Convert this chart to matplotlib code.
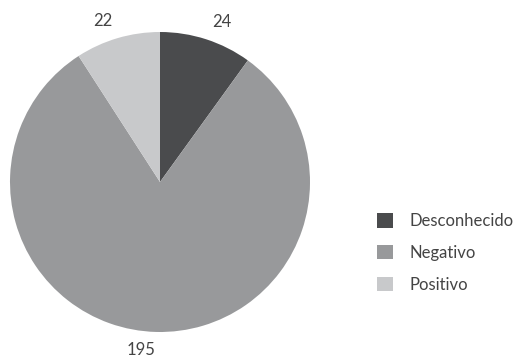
import matplotlib.pyplot as plt
from matplotlib.patches import Patch

categories = ["Desconhecido", "Negativo", "Positivo"]
values = [24, 195, 22]
colors = ["#4a4b4d", "#98999b", "#c8c9cb"]

plt.rcParams["font.family"] = ["Lato", "DejaVu Sans"]

fig = plt.figure(figsize=(5.2, 3.59), dpi=100)
ax = fig.add_axes([10 / 520, 27 / 359, 300 / 520, 300 / 359])

wedges, texts = ax.pie(
    values,
    colors=colors,
    labels=[str(v) for v in values],
    startangle=90,
    counterclock=False,
    labeldistance=1.12,
    radius=1,
    textprops={"fontsize": 12, "color": "#444444"},
)
ax.set_xlim(-1, 1)
ax.set_ylim(-1, 1)
ax.set_aspect("auto")

handles = [Patch(facecolor=c, edgecolor="none") for c in colors]
fig.legend(
    handles,
    categories,
    loc="center left",
    bbox_to_anchor=(362 / 520, 1 - 253 / 359),
    frameon=False,
    fontsize=12,
    handlelength=0.95,
    handleheight=0.95,
    handletextpad=1.0,
    labelspacing=0.95,
    labelcolor="#444444",
)

fig.savefig("out.png", dpi=100)
